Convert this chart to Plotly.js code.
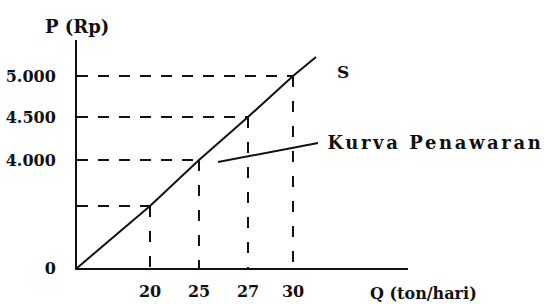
<!DOCTYPE html>
<html>
<head>
<meta charset="utf-8">
<script src="https://cdn.plot.ly/plotly-3.0.1.min.js"></script>
<style>
html,body{margin:0;padding:0;background:#fff;}
#chart{width:545px;height:304px;}
.annotation[data-index="2"] text{letter-spacing:2.6px;}
</style>
</head>
<body>
<div id="chart"></div>
<script>
// Schematic diagram: positions along the (non-proportional) axes
const qLabels = ['20', '25', '27', '30'];
const qPos = [73, 122, 171, 216];
const pLabels = ['', '4.000', '4.500', '5.000'];
const pPos = [62, 108, 151, 192];
const curveStart = [0, 0];
const curveEnd = [239, 211];

const FONT = 'DejaVu Serif, serif';
const traces = [];

// dashed guide lines from each point to both axes
for (let i = 0; i < qPos.length; i++) {
  traces.push({
    type: 'scatter', mode: 'lines',
    x: [0, qPos[i]], y: [pPos[i], pPos[i]],
    line: {color: '#111', width: 2, dash: '11px,10px'},
    hoverinfo: 'skip', showlegend: false
  });
  traces.push({
    type: 'scatter', mode: 'lines',
    x: [qPos[i], qPos[i]], y: [pPos[i], 0],
    line: {color: '#111', width: 2, dash: '11px,14px'},
    hoverinfo: 'skip', showlegend: false
  });
}

// supply curve
traces.push({
  type: 'scatter', mode: 'lines',
  x: [curveStart[0]].concat(qPos, [curveEnd[0]]),
  y: [curveStart[1]].concat(pPos, [curveEnd[1]]),
  line: {color: '#111', width: 2},
  showlegend: false
});

const yTickVals = [0].concat(pPos.filter((v, i) => pLabels[i] !== ''));
const yTickText = ['0'].concat(pLabels.filter(t => t !== ''));

const layout = {
  width: 545, height: 304,
  margin: {l: 77, r: 137, t: 40, b: 36},
  paper_bgcolor: '#fff', plot_bgcolor: '#fff',
  font: {family: FONT, color: '#111', size: 15},
  showlegend: false,
  xaxis: {
    range: [0, 331], showgrid: false, zeroline: false,
    showline: true, linecolor: '#111', linewidth: 2,
    tickvals: qPos, ticktext: qLabels,
    ticks: '', ticklabelstandoff: 8,
    tickfont: {family: FONT, size: 16, weight: 'bold', color: '#111'},
    fixedrange: true
  },
  yaxis: {
    range: [0, 228], showgrid: false, zeroline: false,
    showline: true, linecolor: '#111', linewidth: 2,
    tickvals: yTickVals, ticktext: yTickText,
    ticks: '', ticklabelstandoff: 16,
    tickfont: {family: FONT, size: 16, weight: 'bold', color: '#111'},
    fixedrange: true
  },
  shapes: [
    {type: 'line', xref: 'x', yref: 'y', x0: 141, y0: 106, x1: 241, y1: 125,
     line: {color: '#111', width: 2}}
  ],
  annotations: [
    {xref: 'paper', yref: 'paper', x: 0, y: 1.0, yshift: 14, xanchor: 'center', yanchor: 'middle',
     text: 'P (Rp)', showarrow: false, font: {family: FONT, size: 18, weight: 'bold', color: '#111'}},
    {xref: 'x', yref: 'y', x: 266, y: 196, xanchor: 'center', yanchor: 'middle',
     text: 'S', showarrow: false, font: {family: FONT, size: 17, weight: 'bold', color: '#111'}},
    {xref: 'x', yref: 'y', x: 268, y: 126, xanchor: 'left', yanchor: 'middle',
     text: 'Kurva Penawaran', showarrow: false, font: {family: FONT, size: 18, weight: 'bold', color: '#111'}},
    {xref: 'x', yref: 'paper', x: 291, y: 0, yshift: -25, xanchor: 'left', yanchor: 'middle',
     text: 'Q (ton/hari)', showarrow: false, font: {family: FONT, size: 16, weight: 'bold', color: '#111'}}
  ]
};

Plotly.newPlot('chart', traces, layout, {displayModeBar: false, staticPlot: true});
</script>
</body>
</html>
